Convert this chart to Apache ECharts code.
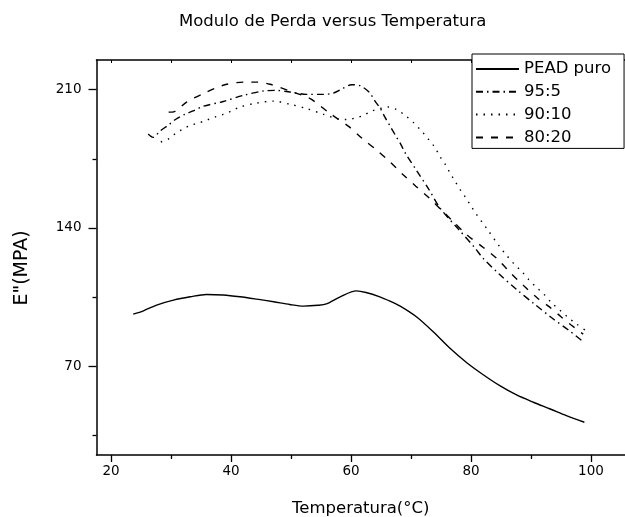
<!DOCTYPE html>
<html>
<head>
<meta charset="utf-8">
<script src="https://cdn.jsdelivr.net/npm/echarts@6/dist/echarts.min.js"></script>
<style>html,body{margin:0;padding:0;background:#fff}#c{width:625px;height:517px}</style>
</head>
<body>
<div id="c"></div>
<script>
// ---- data ----
const titleText = 'Modulo de Perda versus Temperatura';
const xName = 'Temperatura(°C)';
const yName = 'E"(MPA)';
const seriesNames = ['PEAD puro', '95:5', '90:10', '80:20'];

const xMajorTicks = [20, 40, 60, 80, 100];
const xMinorTicks = [30, 50, 70, 90];
const xTopTicks = [20, 30, 40, 50, 60, 70, 80, 90, 100];
const yMajorTicks = [70, 140, 210];
const yMinorTicks = [35, 105, 175];

const peadX = [23.7, 25.4, 27.6, 30.4, 33.2, 35.9, 38.7, 41.5, 44.3, 47.1, 49.8, 52.1, 54.5, 55.9, 58.2, 60.9, 62.5, 64.8, 66.5, 68.2, 70.9, 73.7, 76.5, 79.3, 82.1, 84.8, 87.6, 90.4, 93.2, 95.9, 98.9];
const peadY = [96.3, 98.0, 100.9, 103.4, 105.1, 106.3, 106.0, 105.1, 103.9, 102.6, 101.2, 100.4, 100.8, 101.5, 105.1, 108.1, 107.3, 105.1, 102.9, 100.4, 95.0, 87.4, 79.0, 71.7, 65.5, 60.1, 55.4, 51.7, 48.3, 44.9, 41.6];

const s95X = [26.2, 27.0, 28.2, 29.6, 30.8, 32.3, 33.7, 35.3, 38.7, 42.1, 45.4, 47.6, 49.8, 52.6, 55.4, 57.1, 58.7, 60.1, 61.5, 63.0, 64.0, 64.9, 65.7, 66.6, 67.4, 68.3, 69.1, 70.9, 72.9, 74.9, 78.1, 80.7, 81.9, 84.7, 87.6, 90.5, 93.4, 96.4, 98.4];
const s95Y = [187.5, 185.8, 189.1, 192.1, 195.0, 197.5, 199.2, 201.5, 204.0, 207.1, 209.3, 209.6, 208.8, 207.6, 207.6, 208.3, 210.7, 212.5, 212.0, 208.8, 204.2, 200.4, 195.8, 191.1, 186.9, 182.3, 177.6, 169.2, 159.9, 149.8, 138.7, 129.7, 125.0, 116.6, 108.8, 101.6, 94.6, 87.9, 83.1];

const s90X = [28.3, 29.7, 30.7, 31.9, 33.2, 34.6, 35.9, 37.3, 38.7, 40.1, 41.5, 44.3, 47.1, 49.8, 52.6, 55.4, 57.6, 59.3, 60.7, 62.1, 63.5, 64.8, 66.2, 67.6, 69.0, 70.4, 71.8, 72.9, 74.0, 74.8, 75.7, 76.5, 77.3, 78.2, 79.1, 80.0, 80.9, 81.9, 82.9, 84.8, 85.9, 87.1, 88.5, 89.6, 90.8, 92.2, 93.4, 94.8, 96.2, 97.6, 99.0];
const s90Y = [183.5, 185.2, 187.7, 189.9, 191.9, 193.1, 194.5, 196.1, 197.5, 199.2, 201.2, 203.2, 204.2, 202.6, 200.4, 197.5, 195.3, 194.9, 195.6, 197.0, 199.2, 200.4, 201.2, 199.9, 197.0, 193.3, 188.9, 184.9, 180.7, 176.3, 172.2, 167.8, 163.8, 159.4, 155.4, 151.1, 146.9, 142.7, 138.5, 130.4, 126.2, 122.0, 117.8, 113.9, 110.2, 106.3, 102.1, 98.4, 94.6, 91.3, 88.3];

const s80X = [29.6, 30.6, 32.6, 35.4, 38.7, 42.1, 44.3, 46.5, 49.8, 53.2, 56.5, 59.6, 61.9, 64.3, 66.5, 68.6, 70.8, 73.0, 75.1, 77.1, 79.4, 82.05, 84.4, 86.6, 88.8, 91.1, 92.9, 95.0, 96.7, 98.7];
const s80Y = [198.6, 198.9, 203.7, 208.0, 212.2, 213.8, 213.8, 212.7, 209.3, 205.4, 197.9, 191.4, 185.2, 179.3, 173.4, 167.2, 161.1, 155.2, 149.0, 143.0, 136.3, 130.1, 124.2, 117.2, 110.7, 104.4, 100.4, 95.0, 90.8, 86.2];

// ---- chart ----
const FONT = 'DejaVu Sans';
const xMin = 17.58, xMax = 105.67, yMin = 25, yMax = 225;
const pairs = (xs, ys) => xs.map((x, i) => [x, ys[i]]);
const dashStyles = ['solid', [7, 4, 1.5, 4], [1.5, 6], [7, 8]];
const seriesData = [pairs(peadX, peadY), pairs(s95X, s95Y), pairs(s90X, s90Y), pairs(s80X, s80Y)];

const baseX = {
  type: 'value', min: xMin, max: xMax, gridIndex: 0,
  splitLine: { show: false },
  axisLine: { show: false, onZero: false, lineStyle: { color: '#000', width: 1.5 } },
  axisTick: { show: false },
  axisLabel: { show: false }
};
const baseY = {
  type: 'value', min: yMin, max: yMax, gridIndex: 0,
  splitLine: { show: false },
  axisLine: { show: false, onZero: false, lineStyle: { color: '#000', width: 1.5 } },
  axisTick: { show: false },
  axisLabel: { show: false }
};

const chart = echarts.init(document.getElementById('c'), null, { renderer: 'canvas' });
chart.setOption({
  animation: false,
  backgroundColor: '#fff',
  title: {
    text: titleText, left: 174, top: 8,
    textStyle: { fontFamily: FONT, fontSize: 16.5, fontWeight: 'normal', color: '#000' }
  },
  grid: { left: 96.5, right: 0, top: 60, bottom: 62, containLabel: false, outerBoundsMode: 'none' },
  legend: {
    orient: 'vertical', left: 472, top: 54,
    padding: [6, 13, 2, 3],
    itemWidth: 43, itemHeight: 14, itemGap: 4.8,
    backgroundColor: '#fff', borderColor: '#000', borderWidth: 1,
    itemStyle: { opacity: 0, borderWidth: 0 },
    textStyle: { fontFamily: FONT, fontSize: 16.5, color: '#000', lineHeight: 18 },
    data: seriesNames
  },
  xAxis: [
    Object.assign({}, baseX, {
      position: 'bottom',
      axisLine: { show: true, onZero: false, lineStyle: { color: '#000', width: 1.5 } },
      axisTick: { show: true, inside: false, length: 7, customValues: xMajorTicks, lineStyle: { color: '#000', width: 1.3 } },
      axisLabel: { show: true, customValues: xMajorTicks, margin: 9, fontFamily: FONT, fontSize: 13.5, color: '#000' },
      name: xName, nameLocation: 'middle', nameGap: 45,
      nameTextStyle: { fontFamily: FONT, fontSize: 16.5, color: '#000' }
    }),
    Object.assign({}, baseX, {
      position: 'bottom',
      axisTick: { show: true, inside: false, length: 4, customValues: xMinorTicks, lineStyle: { color: '#000', width: 1.3 } }
    }),
    Object.assign({}, baseX, {
      position: 'top',
      axisLine: { show: true, onZero: false, lineStyle: { color: '#000', width: 1.5 } },
      axisTick: { show: true, inside: true, length: 3, customValues: xTopTicks, lineStyle: { color: '#000', width: 1 } }
    })
  ],
  yAxis: [
    Object.assign({}, baseY, {
      position: 'left',
      axisLine: { show: true, onZero: false, lineStyle: { color: '#000', width: 1.5 } },
      axisTick: { show: true, inside: false, length: 8, customValues: yMajorTicks, lineStyle: { color: '#000', width: 1.3 } },
      axisLabel: { show: true, customValues: yMajorTicks, margin: 15, fontFamily: FONT, fontSize: 13.5, color: '#000' }
    }),
    Object.assign({}, baseY, {
      position: 'left',
      axisTick: { show: true, inside: false, length: 4, customValues: yMinorTicks, lineStyle: { color: '#000', width: 1.3 } }
    })
  ],
  graphic: [{
    type: 'text', x: 22, y: 268, rotation: Math.PI / 2,
    style: { text: yName, fill: '#000', font: '19px "DejaVu Sans"', textAlign: 'center', textVerticalAlign: 'middle' }
  }],
  series: seriesNames.map((name, i) => ({
    name: name, type: 'line', xAxisIndex: 0, yAxisIndex: 0,
    data: seriesData[i], symbol: 'none', smooth: 0.3,
    lineStyle: { color: '#000', width: 1.4, type: dashStyles[i] },
    itemStyle: { color: '#000', opacity: 0 }
  }))
});
</script>
</body>
</html>
